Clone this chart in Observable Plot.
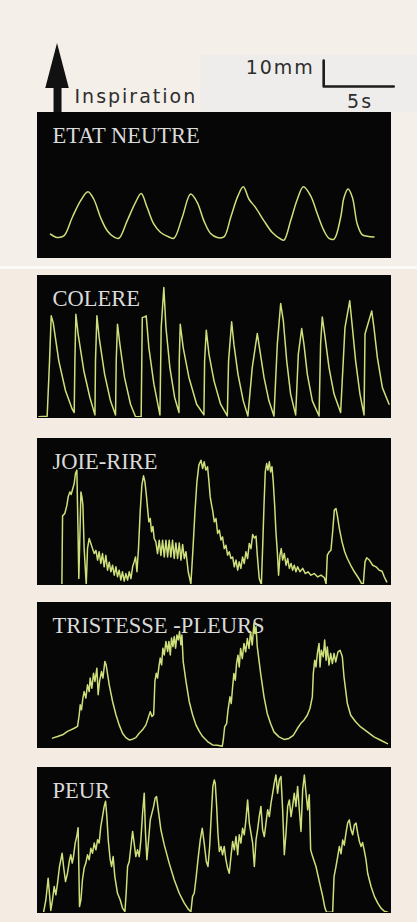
<!DOCTYPE html>
<html><head><meta charset="utf-8">
<script src="https://cdn.jsdelivr.net/npm/d3@7"></script>
<script src="https://cdn.jsdelivr.net/npm/@observablehq/plot@0.6"></script>
<style>
html,body{margin:0;padding:0;background:#f4ece3;}
#page{position:relative;width:417px;height:922px;overflow:hidden;}
.bg{position:absolute;}
.layer{position:absolute;left:0;}
</style></head><body><div id="page">
<div class="bg" style="left:0;top:0;width:417px;height:266px;background:#f5efe9"></div>
<div class="bg" style="left:200px;top:55px;width:217px;height:57px;background:#eeedeb"></div>
<div class="bg" style="left:0;top:266px;width:417px;height:3px;background:#fbfaf8"></div>
</div>
<script>
// ---- data: time (s), amplitude (mm) ----
const titles = ["ETAT NEUTRE", "COLERE", "JOIE-RIRE", "TRISTESSE -PLEURS", "PEUR"];
const headerLabels = ["Inspiration", "10mm", "5s"];
const scaleBarSeconds = 5;
const scaleBarMm = 10;

const neutre = [[0.93,9.0],[1.40,7.7],[1.88,8.3],[2.48,15.4],[3.07,21.8],[3.60,25.3],[4.02,22.4],[4.50,15.4],[4.98,10.3],[5.45,7.9],[5.81,7.4],[6.40,14.1],[7.00,21.2],[7.40,24.6],[7.83,19.2],[8.31,12.8],[8.79,9.6],[9.38,7.9],[9.74,7.4],[10.33,15.4],[10.93,24.4],[11.40,21.2],[11.88,14.1],[12.36,9.2],[12.83,7.7],[13.31,7.9],[13.79,15.4],[14.31,23.7],[14.69,27.2],[15.10,22.4],[15.57,19.2],[16.17,14.1],[16.76,9.6],[17.36,7.1],[17.60,6.7],[18.07,14.1],[18.55,22.4],[18.98,27.2],[19.50,23.7],[19.98,16.7],[20.45,10.3],[20.81,7.4],[21.17,7.1],[21.64,15.4],[21.88,23.1],[22.17,26.3],[22.48,23.1],[22.83,12.8],[23.19,8.7],[23.55,8.2],[24.02,7.9]];

const colere = [[0.10,0.3],[0.69,0.5],[0.86,21.8],[0.98,39.1],[1.12,36.5],[1.52,21.8],[2.00,10.3],[2.48,3.2],[2.62,1.9],[2.67,21.8],[2.74,39.7],[2.90,32.1],[3.31,17.9],[3.74,7.7],[4.10,1.0],[4.14,21.8],[4.24,39.1],[4.40,30.8],[4.79,16.7],[5.21,6.4],[5.57,1.0],[5.62,21.8],[5.71,35.9],[5.88,28.2],[6.21,15.4],[6.64,5.1],[7.00,0.3],[7.40,0.3],[7.48,38.5],[7.64,38.7],[7.76,39.1],[7.95,26.9],[8.31,12.8],[8.74,1.0],[8.83,34.6],[9.02,50.0],[9.17,34.6],[9.45,19.2],[9.79,7.7],[10.10,1.9],[10.12,21.8],[10.19,35.9],[10.40,26.9],[10.81,15.4],[11.36,5.1],[11.88,1.0],[11.93,21.8],[12.05,33.6],[12.24,24.4],[12.60,14.1],[13.07,5.1],[13.55,0.6],[13.64,21.8],[13.86,36.8],[14.02,28.2],[14.31,16.7],[14.69,6.4],[15.02,0.6],[15.33,19.2],[15.69,32.3],[15.88,25.6],[16.17,15.4],[16.52,6.4],[16.88,0.6],[17.12,28.2],[17.36,43.8],[17.55,37.2],[17.79,21.8],[18.07,9.0],[18.43,1.0],[18.62,24.4],[18.86,34.2],[19.02,28.2],[19.26,16.7],[19.62,6.4],[20.10,0.6],[20.21,28.2],[20.33,38.7],[20.50,32.1],[20.81,19.2],[21.17,9.0],[21.64,1.9],[21.95,34.6],[22.29,44.9],[22.48,34.6],[22.71,21.8],[23.02,9.0],[23.31,1.0],[23.38,32.1],[23.86,41.0],[24.02,34.6],[24.26,23.1],[24.62,11.5],[25.10,5.1]];

const joie = [[1.74,0],[1.79,26.4],[1.95,27.3],[2.10,30.5],[2.19,33.7],[2.31,35.6],[2.40,34.6],[2.52,36.9],[2.62,38.8],[2.71,42.7],[2.81,44.0],[2.88,24.1],[2.95,2.3],[3.02,17.7],[3.10,35.6],[3.17,33.7],[3.24,30.5],[3.33,13.8],[3.48,0],[3.57,13.8],[3.69,17.7],[3.81,15.8],[3.93,13.8],[4.05,11.9],[4.17,13.1],[4.29,9.4],[4.40,12.6],[4.52,8.1],[4.64,11.9],[4.76,6.8],[4.88,11.2],[5.00,5.5],[5.12,8.6],[5.24,4.9],[5.36,7.4],[5.48,3.6],[5.60,6.8],[5.71,3.0],[5.83,5.5],[5.95,1.7],[6.07,4.9],[6.19,1.3],[6.31,4.2],[6.43,1.7],[6.55,4.9],[6.67,2.3],[6.79,6.8],[6.90,8.7],[7.00,10.6],[7.10,4.9],[7.21,13.8],[7.33,27.9],[7.45,38.2],[7.57,41.8],[7.67,39.5],[7.76,35.0],[7.86,29.2],[7.95,24.1],[8.05,25.4],[8.14,20.3],[8.24,22.3],[8.33,17.7],[8.45,16.4],[8.57,11.9],[8.69,17.0],[8.81,11.2],[8.93,17.0],[9.05,10.6],[9.17,17.0],[9.29,10.6],[9.40,17.0],[9.52,10.6],[9.64,17.0],[9.76,10.0],[9.88,16.0],[10.00,10.0],[10.12,16.0],[10.24,9.4],[10.36,15.4],[10.48,10.0],[10.60,12.6],[10.76,4.9],[10.95,0.3],[11.10,13.8],[11.24,27.9],[11.38,39.5],[11.52,45.9],[11.67,47.8],[11.79,44.6],[11.90,47.2],[12.02,44.0],[12.14,45.3],[12.24,39.5],[12.33,33.7],[12.43,30.5],[12.50,28.6],[12.62,24.1],[12.74,25.4],[12.86,19.6],[12.98,20.9],[13.10,17.1],[13.21,18.3],[13.33,13.8],[13.45,15.1],[13.57,11.3],[13.69,12.6],[13.81,10.0],[13.93,10.6],[14.05,6.8],[14.17,9.4],[14.29,5.5],[14.40,8.7],[14.52,6.2],[14.64,10.6],[14.76,8.1],[14.88,12.6],[15.00,10.0],[15.12,15.8],[15.24,13.8],[15.36,19.2],[15.48,17.9],[15.60,18.6],[15.69,11.3],[15.83,2.3],[15.98,0],[16.07,13.8],[16.17,30.5],[16.26,43.3],[16.36,46.5],[16.45,44.0],[16.55,47.2],[16.64,43.3],[16.74,45.3],[16.83,39.5],[16.93,30.5],[17.02,20.3],[17.12,12.6],[17.21,3.6],[17.31,11.3],[17.40,13.8],[17.50,9.4],[17.62,11.9],[17.74,7.4],[17.86,10.0],[17.98,6.2],[18.10,8.1],[18.21,5.5],[18.33,7.4],[18.45,4.9],[18.57,6.8],[18.74,4.9],[18.93,6.2],[19.12,4.2],[19.31,4.9],[19.52,3.6],[19.76,4.2],[20.00,2.9],[20.24,3.6],[20.48,2.6],[20.60,0.3],[20.69,11.3],[20.83,12.6],[20.95,13.2],[21.07,20.3],[21.19,28.6],[21.31,29.2],[21.40,26.7],[21.55,21.5],[21.74,16.4],[21.93,12.6],[22.12,10.0],[22.36,7.4],[22.62,4.9],[22.90,2.6],[23.14,0.3],[23.26,0.3],[23.38,8.7],[23.50,10.3],[23.69,9.4],[23.93,7.4],[24.17,6.8],[24.40,5.5],[24.60,5.1],[24.76,2.9],[24.93,1.0]];

const tristesse = [[1.07,3.6],[1.43,4.2],[1.79,4.9],[2.14,6.2],[2.38,6.8],[2.62,7.4],[2.86,8.1],[2.98,12.6],[3.05,16.4],[3.14,14.5],[3.24,19.0],[3.33,21.5],[3.45,19.0],[3.57,24.1],[3.69,21.5],[3.76,26.7],[3.88,22.8],[4.00,28.6],[4.10,25.4],[4.24,30.5],[4.33,20.3],[4.43,25.4],[4.57,29.2],[4.67,26.7],[4.81,33.1],[4.90,31.8],[5.12,24.1],[5.36,17.7],[5.60,12.6],[5.83,8.7],[6.07,5.5],[6.31,3.8],[6.55,2.9],[6.79,3.2],[7.02,3.8],[7.26,5.5],[7.50,6.8],[7.74,8.7],[7.90,11.3],[8.05,13.8],[8.17,11.9],[8.29,12.6],[8.33,17.7],[8.38,25.4],[8.48,28.6],[8.57,26.7],[8.67,31.2],[8.76,34.4],[8.86,31.8],[8.95,38.2],[9.05,35.6],[9.17,40.8],[9.29,36.9],[9.38,40.8],[9.48,35.6],[9.57,42.1],[9.67,38.8],[9.76,42.7],[9.86,38.2],[9.95,43.3],[10.05,41.4],[10.14,44.6],[10.24,39.5],[10.31,43.3],[10.40,33.1],[10.60,25.4],[10.83,17.7],[11.07,12.6],[11.31,8.7],[11.55,6.2],[11.79,4.2],[12.14,2.3],[12.50,1.0],[12.83,0.9],[13.19,0.5],[13.26,2.8],[13.36,7.9],[13.50,9.2],[13.60,14.4],[13.74,19.5],[13.83,16.9],[13.93,23.3],[14.02,28.5],[14.12,25.9],[14.21,32.3],[14.31,35.5],[14.40,31.0],[14.50,38.1],[14.62,34.2],[14.74,40.0],[14.86,36.8],[14.98,41.9],[15.10,38.1],[15.21,44.5],[15.33,39.4],[15.45,47.7],[15.52,43.8],[15.60,46.4],[15.69,38.7],[15.93,28.5],[16.17,19.5],[16.40,13.1],[16.64,9.2],[16.88,6.0],[17.24,4.1],[17.60,3.1],[17.95,3.5],[18.26,4.7],[18.55,7.3],[18.79,9.2],[19.02,10.5],[19.26,12.4],[19.45,15.0],[19.62,19.5],[19.69,28.5],[19.79,33.6],[19.88,31.0],[19.98,36.2],[20.10,40.0],[20.17,31.0],[20.26,37.4],[20.40,34.9],[20.50,41.3],[20.60,33.6],[20.69,38.7],[20.81,31.7],[20.93,36.2],[21.05,32.3],[21.17,36.2],[21.29,32.9],[21.45,36.8],[21.60,37.4],[21.76,34.9],[21.88,27.2],[22.12,16.9],[22.36,12.4],[22.71,9.9],[23.07,7.9],[23.55,6.0],[24.02,4.1],[24.50,2.8],[24.98,1.5]];

const peur = [[0.43,0],[0.60,4.9],[0.76,13.2],[0.86,6.8],[0.95,0.8],[1.07,4.9],[1.19,10.0],[1.31,6.8],[1.43,11.3],[1.57,17.7],[1.67,20.3],[1.76,22.8],[1.86,17.7],[2.00,11.9],[2.14,15.1],[2.29,20.3],[2.38,22.2],[2.48,19.0],[2.57,21.5],[2.69,26.7],[2.81,29.5],[2.90,32.6],[2.95,17.7],[3.00,2.3],[3.10,4.9],[3.21,12.6],[3.33,17.1],[3.45,19.0],[3.57,22.2],[3.69,20.3],[3.81,24.7],[3.93,22.8],[4.05,26.7],[4.17,24.1],[4.29,28.0],[4.40,26.7],[4.52,33.1],[4.64,36.9],[4.76,40.8],[4.86,42.8],[4.95,36.9],[5.05,27.9],[5.19,20.3],[5.29,17.7],[5.40,21.5],[5.52,13.8],[5.71,7.4],[5.90,4.9],[6.07,1.7],[6.24,0.4],[6.33,7.4],[6.43,17.7],[6.55,19.6],[6.67,25.4],[6.79,31.2],[6.90,26.7],[7.02,21.5],[7.14,24.1],[7.26,21.5],[7.38,27.9],[7.50,38.2],[7.62,45.9],[7.71,30.5],[7.81,20.3],[7.93,27.9],[8.05,35.6],[8.17,38.2],[8.29,40.8],[8.40,44.0],[8.50,44.6],[8.62,39.5],[8.81,31.8],[9.05,26.0],[9.40,19.0],[9.76,12.6],[10.12,7.4],[10.48,3.6],[10.76,1.3],[10.95,0.3],[11.07,6.2],[11.19,7.4],[11.33,13.8],[11.48,21.5],[11.62,27.9],[11.76,32.4],[11.90,26.7],[12.05,19.6],[12.17,17.7],[12.29,25.4],[12.40,36.9],[12.52,48.5],[12.62,51.0],[12.69,49.7],[12.79,40.8],[12.88,30.5],[12.98,23.5],[13.10,25.4],[13.21,22.2],[13.33,25.4],[13.45,20.3],[13.57,17.1],[13.69,15.1],[13.81,21.5],[13.93,27.3],[14.05,24.1],[14.17,29.2],[14.29,22.2],[14.40,29.9],[14.52,26.7],[14.64,32.4],[14.76,29.9],[14.88,35.6],[15.00,43.3],[15.12,34.4],[15.24,30.5],[15.36,26.7],[15.48,17.7],[15.60,27.9],[15.71,31.8],[15.83,36.9],[15.95,40.8],[16.07,31.8],[16.19,29.2],[16.31,34.4],[16.43,39.5],[16.55,36.9],[16.67,42.1],[16.79,45.9],[16.90,49.7],[17.02,52.9],[17.14,45.9],[17.26,51.0],[17.38,52.3],[17.50,39.5],[17.62,22.2],[17.74,30.5],[17.86,40.8],[17.98,43.3],[18.10,36.9],[18.21,40.8],[18.33,45.9],[18.45,40.8],[18.57,48.5],[18.69,39.5],[18.81,31.2],[18.93,47.2],[19.05,52.9],[19.17,45.9],[19.29,39.5],[19.40,45.3],[19.50,24.1],[19.64,21.5],[19.88,17.7],[20.12,11.9],[20.36,6.2],[20.52,1.7],[20.64,0.1],[21.07,0.1],[21.17,13.8],[21.31,17.7],[21.43,21.5],[21.55,25.4],[21.67,22.6],[21.79,27.9],[21.90,25.9],[22.02,30.5],[22.14,34.4],[22.26,35.6],[22.38,31.8],[22.50,29.9],[22.62,33.7],[22.74,34.4],[22.86,30.5],[22.98,27.3],[23.10,25.4],[23.21,26.9],[23.33,23.8],[23.45,20.3],[23.57,15.1],[23.81,10.0],[24.05,6.2],[24.29,3.6],[24.52,1.7],[24.76,0.5],[25.00,0.1]];

const series = [neutre, colere, joie, tristesse, peur];

// ---- layout ----
const PX_PER_MM = 2.6;
const X_DOMAIN = [0, 25.2];
const W = 417, ML = 37, MR = 27;
const panelTops = [112, 275, 438, 602, 767];
const panelHeights = [145, 142, 146, 145, 145];
const curves = ["catmull-rom", "linear", "linear", "linear", "linear"];
const TRACE = "#cde07a";
const page = document.getElementById("page");

function place(svg, top) {
  const d = document.createElement("div");
  d.className = "layer";
  d.style.top = top + "px";
  d.appendChild(svg);
  page.appendChild(d);
}

// header: inspiration arrow and scale bar (in s / mm units)
const HH = 112;
const arrowX = 1.43, arrowHeadBase = 9.2, arrowTip = 26.5, arrowHalf = 0.84;
const arrowHead = [
  {mm: arrowHeadBase, x1: arrowX - arrowHalf, x2: arrowX + arrowHalf},
  {mm: arrowTip, x1: arrowX, x2: arrowX}
];
const barCorner = [20.43, 10];
const scaleBar = [
  [barCorner[0], barCorner[1] + scaleBarMm],
  [barCorner[0], barCorner[1]],
  [barCorner[0] + scaleBarSeconds, barCorner[1]]
];
const labelFont = {fontFamily: "DejaVu Sans, sans-serif", fontSize: 19, fill: "#2e2e2e", lineAnchor: "bottom"};
const header = Plot.plot({
  width: W, height: HH, marginLeft: ML, marginRight: MR, marginTop: 0, marginBottom: 0,
  x: {domain: X_DOMAIN, axis: null},
  y: {domain: [0, HH / PX_PER_MM], axis: null},
  style: {background: "transparent", overflow: "visible", letterSpacing: "2px"},
  marks: [
    Plot.ruleX([arrowX], {y1: 0, y2: arrowHeadBase + 0.5, stroke: "#111", strokeWidth: 8}),
    Plot.areaX(arrowHead, {y: "mm", x1: "x1", x2: "x2", fill: "#111"}),
    Plot.line(scaleBar, {stroke: "#1c1c1c", strokeWidth: 2.6}),
    Plot.text([headerLabels[0]], {text: d => d, x: 2.64, y: 3.5, textAnchor: "start", ...labelFont}),
    Plot.text([headerLabels[1]], {text: d => d, x: 19.8, y: 15, textAnchor: "end", ...labelFont}),
    Plot.text([headerLabels[2]], {text: d => d, x: 22.1, y: 1.9, textAnchor: "start", ...labelFont})
  ]
});
place(header, 0);

titles.forEach((title, i) => {
  const h = panelHeights[i];
  const svg = Plot.plot({
    width: W, height: h, marginLeft: ML, marginRight: MR, marginTop: 0, marginBottom: 0,
    x: {domain: X_DOMAIN, axis: null},
    y: {domain: [0, h / PX_PER_MM], axis: null},
    style: {background: "transparent", overflow: "visible"},
    marks: [
      Plot.frame({fill: "#060606", stroke: "#060606"}),
      Plot.text([title], {text: d => d, frameAnchor: "top-left", textAnchor: "start", lineAnchor: "top",
        dx: 15, dy: 15, fill: "#dadada", fontSize: 22.5, fontFamily: "Liberation Serif, Times New Roman, serif"}),
      Plot.line(series[i], {stroke: TRACE, strokeWidth: 1.5, strokeLinejoin: "round", curve: curves[i], clip: true})
    ]
  });
  place(svg, panelTops[i]);
});
</script>
</body></html>
